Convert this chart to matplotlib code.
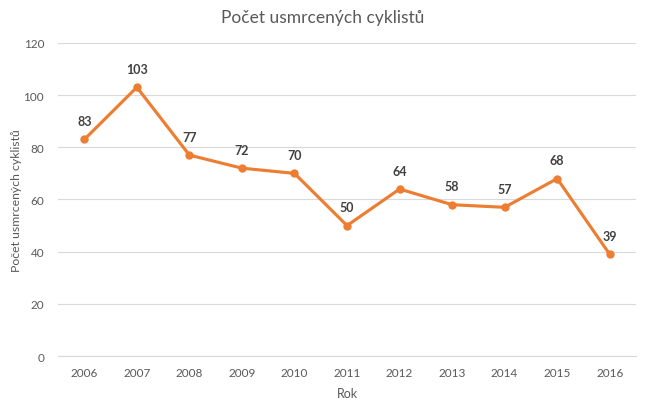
import matplotlib
matplotlib.use('Agg')
import matplotlib.pyplot as plt

# Data
years = ['2006', '2007', '2008', '2009', '2010', '2011',
         '2012', '2013', '2014', '2015', '2016']
deaths = [83, 103, 77, 72, 70, 50, 64, 58, 57, 68, 39]
y_ticks = [0, 20, 40, 60, 80, 100, 120]

plt.rcParams['font.family'] = ['Lato', 'DejaVu Sans']
text_color = '#595959'
line_color = '#ED7D31'
grid_color = '#D9D9D9'

fig = plt.figure(figsize=(6.45, 4.10), dpi=100)
ax = fig.add_axes([0.09, 0.129, 0.896, 0.764])

x = list(range(len(years)))
ax.plot(x, deaths, color=line_color, linewidth=2.25, marker='o',
        markersize=5, zorder=3)
for xi, v in zip(x, deaths):
    ax.annotate(str(v), (xi, v), xytext=(0, 9), textcoords='offset points',
                ha='center', va='bottom', fontsize=9, fontweight='bold',
                color='#404040')

ax.set_xlim(-0.5, len(years) - 0.5)
ax.set_ylim(0, 120)
ax.set_xticks(x)
ax.set_xticklabels(years)
ax.set_yticks(y_ticks)
ax.tick_params(axis='both', length=0, labelsize=8.5, colors=text_color)
ax.tick_params(axis='x', pad=8)
ax.tick_params(axis='y', pad=10)
ax.grid(axis='y', color=grid_color, linewidth=0.8)
ax.set_axisbelow(True)
for side in ['top', 'right', 'left']:
    ax.spines[side].set_visible(False)
ax.spines['bottom'].set_color(grid_color)
ax.spines['bottom'].set_linewidth(0.8)

ax.set_xlabel('Rok', fontsize=9, color=text_color, labelpad=6)
ax.set_ylabel('Počet usmrcených cyklistů', fontsize=8.8, color=text_color)
ax.yaxis.set_label_coords(-0.062, 0.5)
fig.suptitle('Počet usmrcených cyklistů', fontsize=12.5, color=text_color,
             y=0.975)

fig.savefig('out.png', dpi=100)
